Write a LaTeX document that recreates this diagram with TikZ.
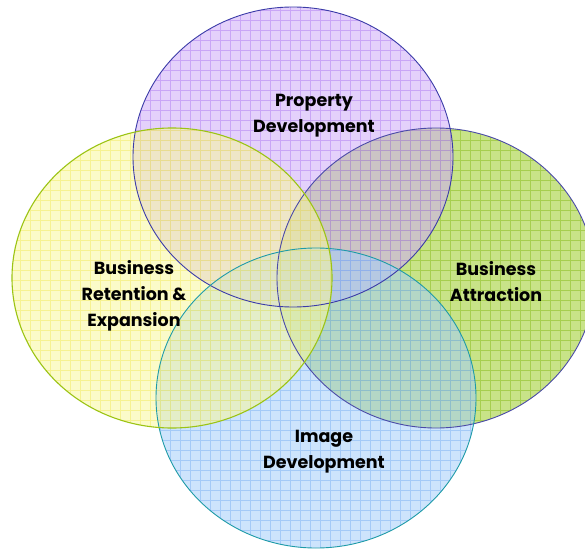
\documentclass[tikz,border=0pt]{standalone}
\usepackage{fontspec}
\setmainfont{Poppins}
\begin{document}
\begin{tikzpicture}[x=1pt,y=-1pt,
  lbl/.style={font=\bfseries\fontsize{17.5}{26}\selectfont, align=center, text=black},
  ring/.style={line width=0.9pt}]
\definecolor{pfill}{RGB}{207,172,248}\definecolor{pgrid}{RGB}{170,115,240}\definecolor{pline}{HTML}{3B3BA8}
\definecolor{yfill}{RGB}{248,248,158}\definecolor{ygrid}{RGB}{240,232,80}\definecolor{yline}{HTML}{9CC414}
\definecolor{gfill}{RGB}{155,205,40}\definecolor{ggrid}{RGB}{125,182,10}\definecolor{gline}{HTML}{4A4AA8}
\definecolor{bfill}{RGB}{165,206,250}\definecolor{bgrid}{RGB}{115,172,242}\definecolor{bline}{HTML}{1E9BA8}
\useasboundingbox[fill=white] (0,0) rectangle (585,548);

% one translucent gridded disc per area
\newcommand{\gridellipse}[5]{%
  \begin{scope}
    \clip #1 ellipse [x radius=#2pt, y radius=#3pt];
    \fill[#4, fill opacity=0.55] #1 ellipse [x radius=#2pt, y radius=#3pt];
    \draw[#5, line width=0.6pt, opacity=0.45, step=10pt] (-20,-20) grid (620,580);
  \end{scope}}

\coordinate (cg) at (436,278);
\coordinate (cy) at (172,278);
\coordinate (cp) at (293,157);
\coordinate (cb) at (316,398);

\gridellipse{(cg)}{159}{150}{gfill}{ggrid}
\gridellipse{(cp)}{160}{150}{pfill}{pgrid}
\gridellipse{(cb)}{160}{150}{bfill}{bgrid}
\gridellipse{(cy)}{160}{150}{yfill}{ygrid}

\draw[ring, gline] (cg) ellipse [x radius=159pt, y radius=150pt];
\draw[ring, pline] (cp) ellipse [x radius=160pt, y radius=150pt];
\draw[ring, bline] (cb) ellipse [x radius=160pt, y radius=150pt];
\draw[ring, yline, line width=1.1pt] (cy) ellipse [x radius=160pt, y radius=150pt];

\node[lbl] (prop) at (314,116) {Property\\Development};
\node[lbl] (ret) at (134,296) {Business\\Retention \&\\Expansion};
\node[lbl] (attr) at (496,282) {Business\\Attraction};
\node[lbl] (img) at (324,452) {Image\\Development};
\end{tikzpicture}
\end{document}
